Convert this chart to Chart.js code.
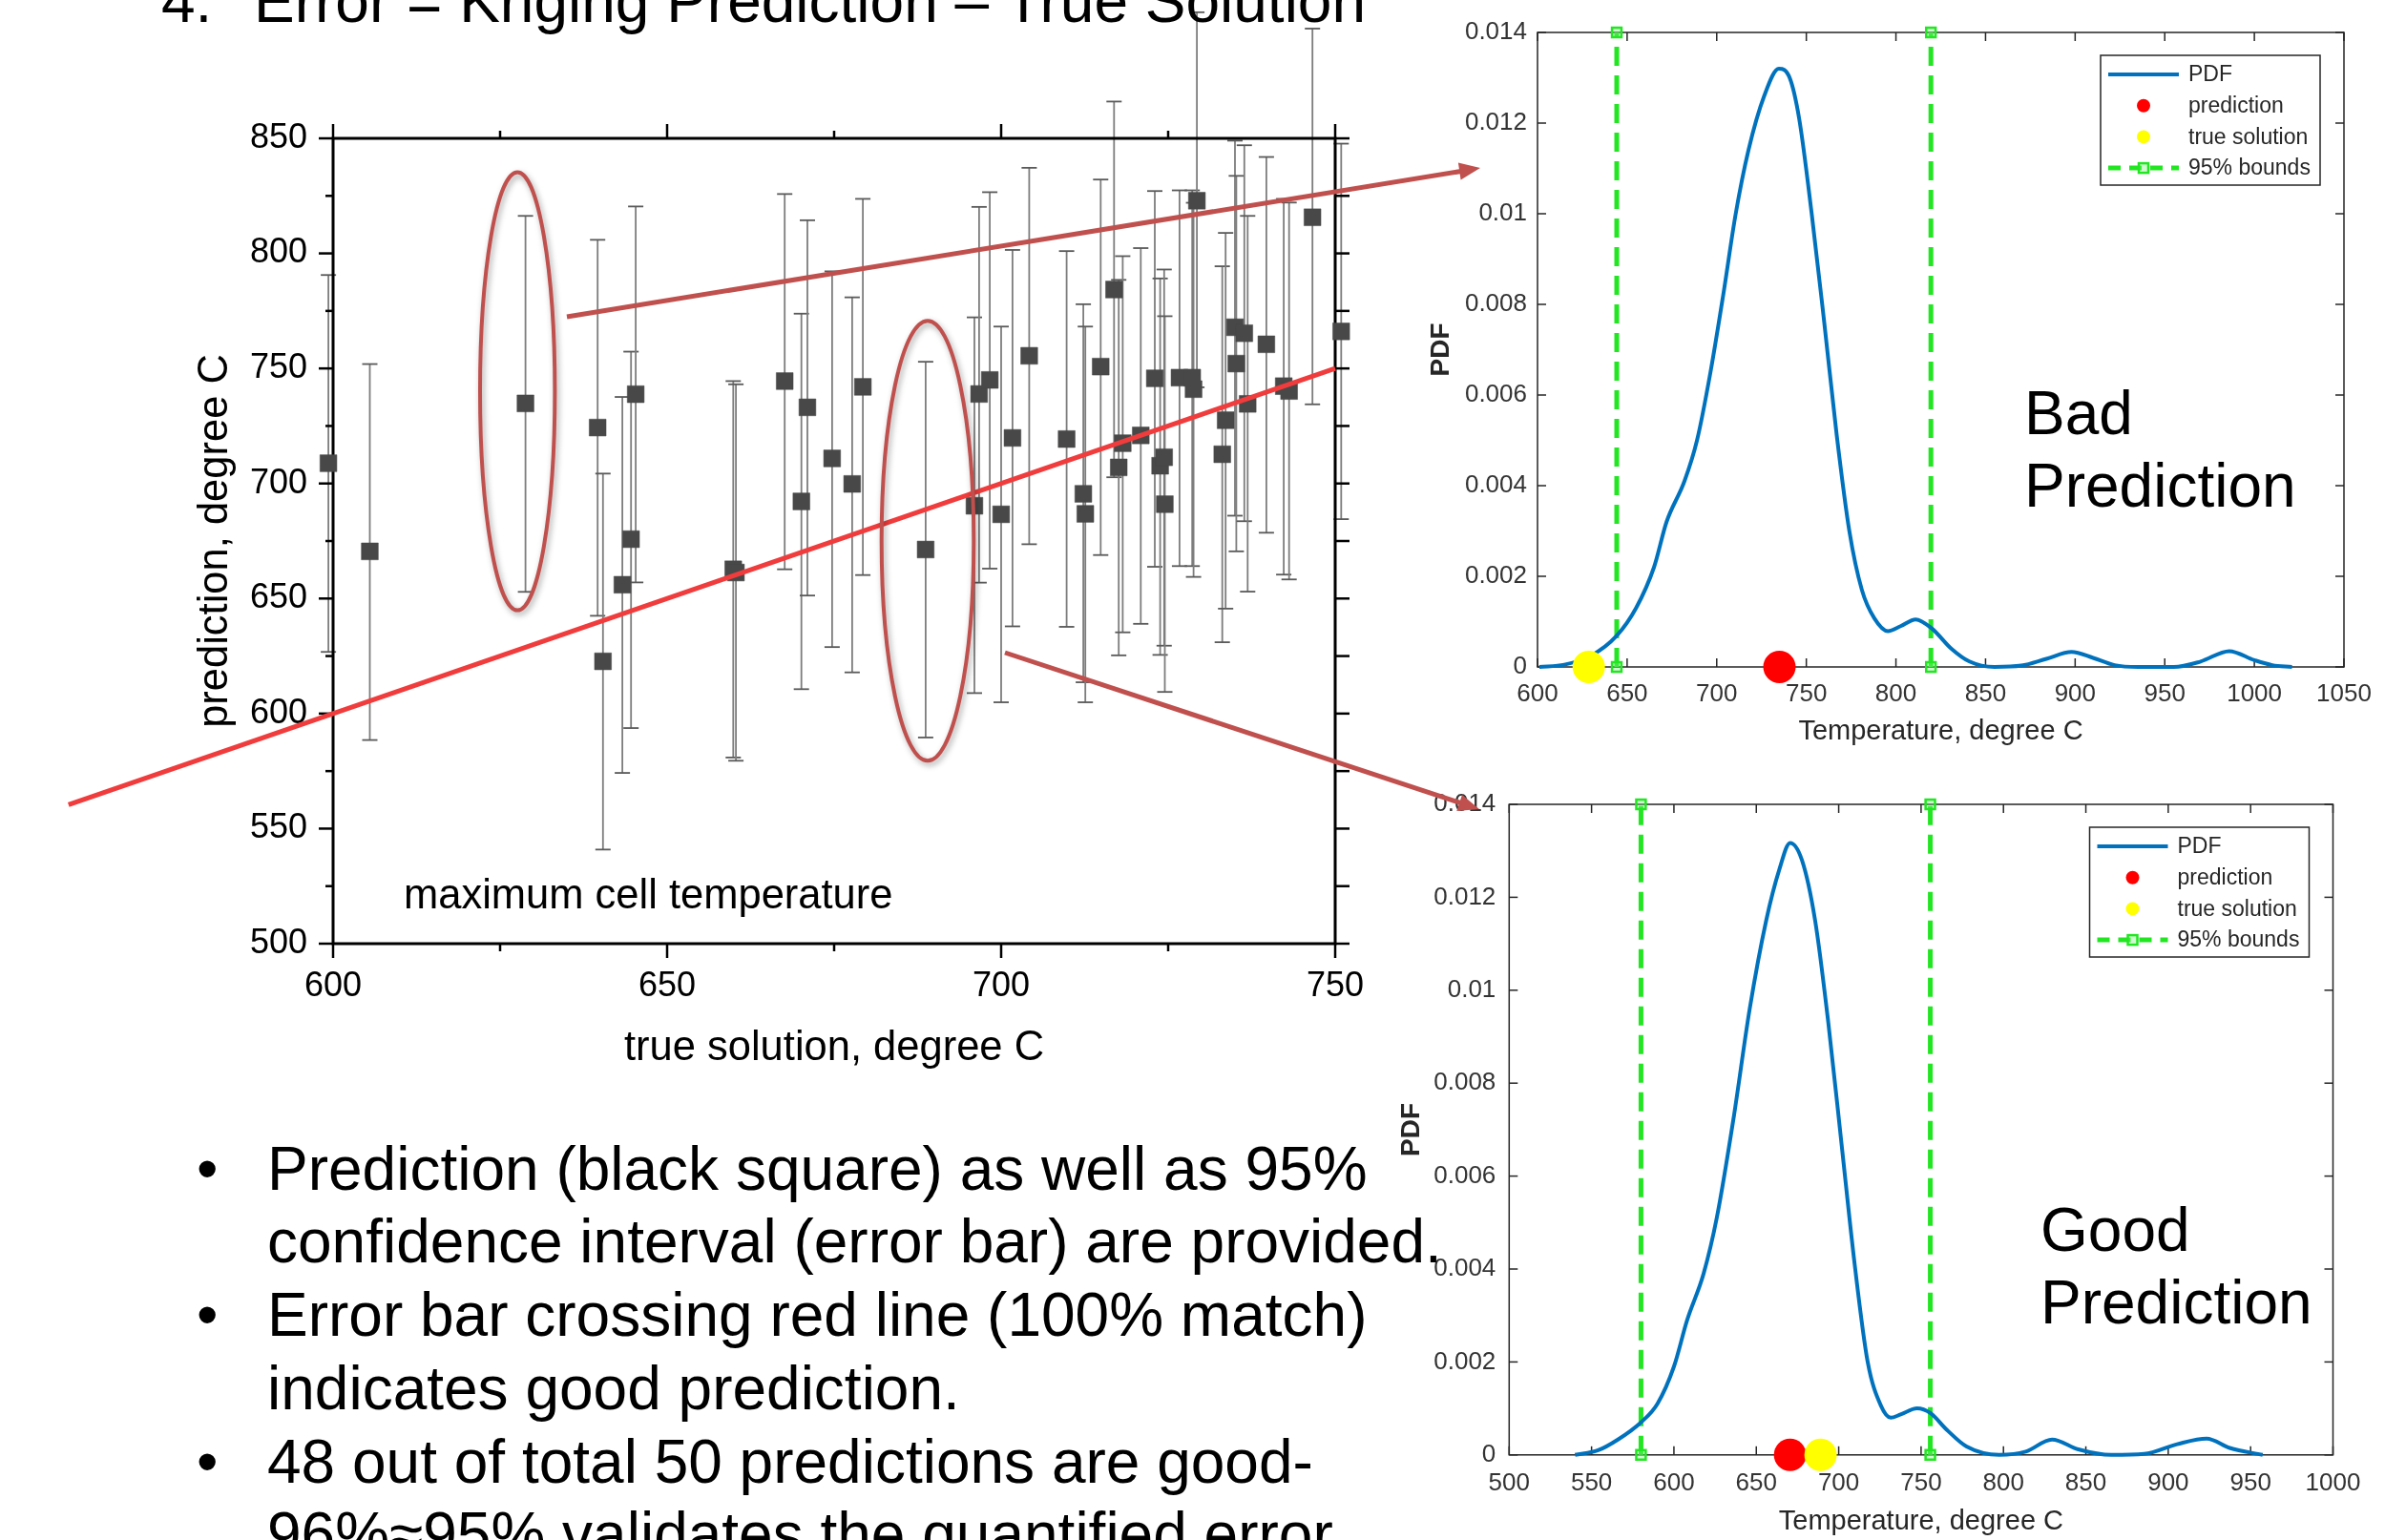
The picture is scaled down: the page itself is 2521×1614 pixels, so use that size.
<!DOCTYPE html>
<html><head><meta charset="utf-8">
<script src="https://cdn.jsdelivr.net/npm/chart.js@4.4.0/dist/chart.umd.min.js"></script>
<style>
html,body{margin:0;padding:0;background:#fff;overflow:hidden;}
body{width:2521px;height:1614px;position:relative;font-family:"Liberation Sans",Arial,sans-serif;}
canvas{position:absolute;}
#main{left:0;top:0;}
#bad{left:1480px;top:0;}
#good{left:1440px;top:800px;}
#ov{position:absolute;left:0;top:0;z-index:5;pointer-events:none;}
#ov text{font-family:"Liberation Sans",Arial,sans-serif;fill:#000;}
</style></head><body>
<canvas id="main" width="1480" height="1160"></canvas>
<canvas id="bad" width="1041" height="800"></canvas>
<canvas id="good" width="1081" height="814"></canvas>
<svg id="ov" width="2521" height="1614" xmlns="http://www.w3.org/2000/svg">
  <text x="169" y="23" font-size="64">4.</text>
  <text x="266" y="23" font-size="64">Error = Kriging Prediction – True Solution</text>
  <text x="423" y="952" font-size="43.5">maximum cell temperature</text>
  <g font-size="64">
    <text x="206" y="1247">•</text>
    <text x="280" y="1247">Prediction (black square) as well as 95%</text>
    <text x="280" y="1323">confidence interval (error bar) are provided.</text>
    <text x="206" y="1400">•</text>
    <text x="280" y="1400">Error bar crossing red line (100% match)</text>
    <text x="280" y="1477">indicates good prediction.</text>
    <text x="206" y="1554">•</text>
    <text x="280" y="1554">48 out of total 50 predictions are good-</text>
    <text x="280" y="1630">96%≈95% validates the quantified error</text>
    <text x="2121" y="455">Bad</text>
    <text x="2121" y="531">Prediction</text>
    <text x="2138" y="1311">Good</text>
    <text x="2138" y="1387">Prediction</text>
  </g>
  <g stroke="#c0504d" stroke-width="5" fill="#c0504d">
    <line x1="594" y1="332" x2="1531" y2="179.5"/>
    <polygon points="1551,176 1530.6,188.6 1527.9,170.4" stroke="none"/>
    <line x1="1053" y1="684" x2="1531" y2="841.7"/>
    <polygon points="1550,848 1526.3,850.0 1532.0,832.9" stroke="none"/>
  </g>
</svg>
<script>
// ---------------- main chart data ----------------
const trueSolution = [599.3,605.5,628.8,639.6,640.4,643.3,644.6,645.3,659.9,660.3,667.6,670.1,671.0,674.7,677.7,679.3,688.7,696.0,696.7,698.3,700.0,701.7,704.2,709.8,712.3,712.6,714.9,716.9,717.6,718.2,720.9,723.0,723.8,724.4,724.5,726.7,728.6,728.8,729.3,733.1,733.6,735.0,735.2,736.4,736.9,739.7,742.3,743.1,746.6,750.9];
const prediction   = [708.8,670.5,734.8,724.3,622.7,656.0,675.8,738.8,662.7,661.3,744.5,692.2,733.1,710.9,699.8,742.0,671.3,690.3,738.9,745.0,686.6,719.8,755.5,719.3,695.5,686.8,750.8,784.3,707.0,717.5,720.9,745.7,707.7,711.4,691.0,746.0,746.0,741.0,822.9,712.7,727.5,767.9,752.1,765.3,734.6,760.5,742.3,740.2,815.7,766.1];
const ciLower      = [626.8,588.5,652.9,642.5,540.9,574.2,593.7,657.0,580.9,579.5,662.7,610.6,651.3,628.9,617.9,660.2,589.6,608.9,656.9,663.0,604.9,637.9,673.6,637.7,613.6,604.9,668.9,702.7,625.3,635.3,639.0,663.8,625.5,629.5,609.4,664.1,664.1,659.4,741.8,631.0,645.6,686.0,670.5,683.6,653.0,678.6,660.4,658.3,734.4,684.5];
const ciUpper      = [790.6,751.9,816.3,805.9,704.3,737.6,757.3,820.4,744.5,743.1,825.8,773.8,814.4,792.2,780.9,823.7,752.9,772.2,820.2,826.6,768.2,801.5,837.2,801.0,777.9,768.2,832.1,866.0,788.5,798.8,802.3,827.1,789.1,793.0,772.7,827.4,827.4,822.0,904.8,794.4,808.9,849.0,833.7,847.0,816.3,841.9,823.7,822.1,897.7,847.7];
const perfectMatch = [560.4, 750];              // 100% match line: prediction = true solution
const highlighted = [                            // ellipses around the two discussed cases
  {x:627.6, y:740.1, rx:5.6, ry:95.2},
  {x:689.0, y:675.1, rx:6.9, ry:95.6}
];

// ---------------- PDF chart data ----------------
const badTemp = [601,615,630,644,655,665,672,682,689,696.5,703.6,710.6,717.7,726.5,734.7,740.7,746,753,760,767,774,781,788,795.5,802.6,811,820,831,841,855,870,884,898,910,922,935,955,970,986,1000,1010,1021];
const badPdf  = [0,0.00005,0.00025,0.00068,0.0013,0.0022,0.0032,0.0041,0.005,0.0065,0.0082,0.0100,0.0114,0.0126,0.0132,0.0130,0.0121,0.0100,0.0076,0.0051,0.0030,0.0017,0.00107,0.00079,0.0009,0.00105,0.00085,0.0004,0.00012,0,0.00003,0.00018,0.00033,0.0002,0.00004,0,0,0.00012,0.00035,0.00015,0.00004,0];
const badPrediction = 735;
const badTrue = 628.6;
const badBounds = [644.2, 819.5];

const goodTemp = [540,554,566,580,590,600,608,618,626,636,646,656,664,670.5,677.7,685.7,693.7,701.7,709.7,717.6,725.6,731.6,737.6,747.6,755.6,765.6,777.6,797.5,813.5,829.5,845.4,865.4,885.4,905.4,923.3,937.3,957.3];
const goodPdf  = [0,0.0001,0.00033,0.0007,0.0011,0.0019,0.0029,0.0039,0.0051,0.0072,0.0096,0.0115,0.0126,0.01317,0.0128,0.0115,0.0093,0.0067,0.0041,0.002,0.00106,0.0008,0.00087,0.001,0.0009,0.00054,0.00018,0,0.00007,0.00033,0.00012,0,0.00002,0.00023,0.00035,0.00015,0];
const goodPrediction = 670.5;
const goodTrue = 689;
const goodBounds = [580, 755.6];

const pdfMax = 0.014;

// ---------------- plugins ----------------
function seg(ctx,x1,y1,x2,y2){ctx.beginPath();ctx.moveTo(x1,y1);ctx.lineTo(x2,y2);ctx.stroke();}

const originAxes = {
  id:'originAxes',
  beforeDatasetsDraw(chart){
    const {ctx, chartArea:ca, scales:{x,y}} = chart;
    ctx.save();
    const ds = chart.data.datasets.find(d=>d.errLow);
    ctx.lineWidth = 1.8;
    ds.data.forEach((p,i)=>{
      const px = x.getPixelForValue(p.x);
      const lo = y.getPixelForValue(ds.errLow[i]);
      const hi = y.getPixelForValue(ds.errHigh[i]);
      ctx.strokeStyle = '#7d7d7d';
      seg(ctx,px,lo,px,hi);
      ctx.strokeStyle = '#5a5a5a';
      seg(ctx,px-8,lo,px+8,lo);
      seg(ctx,px-8,hi,px+8,hi);
    });
    ctx.strokeStyle = '#000';
    ctx.lineWidth = 3;
    ctx.strokeRect(ca.left, ca.top, ca.right-ca.left, ca.bottom-ca.top);
    ctx.lineWidth = 2.5;
    for (let v = x.min; v <= x.max + 1e-6; v += 25){
      const px = x.getPixelForValue(v);
      const major = Math.abs(v % 50) < 1e-6;
      const L = major ? 15 : 8;
      seg(ctx,px,ca.bottom,px,ca.bottom+L);
      seg(ctx,px,ca.top,px,ca.top-L);
    }
    for (let v = y.min; v <= y.max + 1e-6; v += 25){
      const py = y.getPixelForValue(v);
      const major = Math.abs(v % 50) < 1e-6;
      seg(ctx,ca.left-(major?15:8),py,ca.left,py);
      seg(ctx,ca.right,py,ca.right+15,py);
    }
    ctx.restore();
  },
  afterDatasetsDraw(chart){
    const {ctx, scales:{x,y}} = chart;
    ctx.save();
    ctx.strokeStyle = '#c0504d';
    ctx.lineWidth = 4;
    ctx.shadowColor = 'rgba(0,0,0,0.35)';
    ctx.shadowBlur = 6;
    ctx.shadowOffsetX = 2;
    ctx.shadowOffsetY = 3;
    highlighted.forEach(e=>{
      const cx = x.getPixelForValue(e.x), cy = y.getPixelForValue(e.y);
      const rx = Math.abs(x.getPixelForValue(e.x+e.rx)-cx);
      const ry = Math.abs(y.getPixelForValue(e.y+e.ry)-cy);
      ctx.beginPath(); ctx.ellipse(cx,cy,rx,ry,0,0,Math.PI*2); ctx.stroke();
    });
    ctx.restore();
  }
};

const matlabBox = {
  id:'matlabBox',
  beforeDatasetsDraw(chart){
    const {ctx, chartArea:ca, scales:{x,y}} = chart;
    ctx.save();
    ctx.strokeStyle = '#262626';
    ctx.lineWidth = 1.5;
    ctx.strokeRect(ca.left, ca.top, ca.right-ca.left, ca.bottom-ca.top);
    x.ticks.forEach(t=>{
      const px = x.getPixelForValue(t.value);
      seg(ctx,px,ca.bottom,px,ca.bottom-9);
      seg(ctx,px,ca.top,px,ca.top+9);
    });
    y.ticks.forEach(t=>{
      const py = y.getPixelForValue(t.value);
      seg(ctx,ca.left,py,ca.left+9,py);
      seg(ctx,ca.right,py,ca.right-9,py);
    });
    ctx.restore();
  },
  afterDraw(chart){
    const {ctx, chartArea:ca} = chart;
    const w = 230, h = 136;
    const x0 = ca.right - 25 - w, y0 = ca.top + 24;
    ctx.save();
    ctx.fillStyle = '#fff';
    ctx.fillRect(x0,y0,w,h);
    ctx.strokeStyle = '#262626';
    ctx.lineWidth = 1.5;
    ctx.strokeRect(x0,y0,w,h);
    const items = chart.data.datasets.filter(d=>d.inLegend);
    items.sort((a,b)=>a.legendRank-b.legendRank);
    ctx.font = '23px "Liberation Sans", Arial, sans-serif';
    ctx.textBaseline = 'middle';
    items.forEach((d,i)=>{
      const cy = y0 + 20 + i*32.7;
      if (d.legendKind === 'line'){
        ctx.strokeStyle = d.borderColor; ctx.lineWidth = d.borderWidth; ctx.setLineDash([]);
        seg(ctx,x0+8,cy,x0+82,cy);
      } else if (d.legendKind === 'dot'){
        ctx.fillStyle = d.backgroundColor;
        ctx.beginPath(); ctx.arc(x0+45,cy,7,0,Math.PI*2); ctx.fill();
      } else {
        ctx.strokeStyle = d.borderColor; ctx.lineWidth = d.borderWidth; ctx.setLineDash([13,9]);
        seg(ctx,x0+8,cy,x0+82,cy);
        ctx.setLineDash([]);
        ctx.fillStyle = d.pointBackgroundColor;
        ctx.fillRect(x0+40,cy-5,10,10);
        ctx.lineWidth = 2.5; ctx.strokeStyle = d.pointBorderColor;
        ctx.strokeRect(x0+40,cy-5,10,10);
      }
      ctx.fillStyle = '#262626';
      ctx.fillText(d.label, x0+92, cy+1);
    });
    ctx.restore();
  }
};

// ---------------- main chart ----------------
new Chart(document.getElementById('main'), {
  type:'scatter',
  data:{
    datasets:[
      {
        label:'100% match',
        data: perfectMatch.map(v=>({x:v,y:v})),
        showLine:true, borderColor:'#f03c3c', borderWidth:5, pointRadius:0,
        clip:false, order:0
      },
      {
        label:'prediction',
        data: trueSolution.map((t,i)=>({x:t,y:prediction[i]})),
        errLow: ciLower, errHigh: ciUpper,
        pointStyle:'rect', pointRadius:12.5, backgroundColor:'#484848',
        borderColor:'#484848', borderWidth:0.5, clip:false, order:1
      }
    ]
  },
  options:{
    responsive:false, animation:false, devicePixelRatio:1,
    layout:{padding:{left:0, top:145, right:81, bottom:0}},
    plugins:{legend:{display:false}, tooltip:{enabled:false}},
    scales:{
      x:{
        type:'linear', min:600, max:750,
        ticks:{stepSize:50, color:'#000', font:{size:36, family:'"Liberation Sans", Arial, sans-serif'}, padding:23, maxRotation:0, callback:v=>String(v)},
        grid:{display:false, drawTicks:false}, border:{display:false},
        title:{display:true, text:'true solution, degree C', color:'#000', font:{size:43.5, family:'"Liberation Sans", Arial, sans-serif'}, padding:{top:0,bottom:35}},
        afterFit(s){ s.height = 171; }
      },
      y:{
        type:'linear', min:500, max:850,
        ticks:{stepSize:50, color:'#000', font:{size:36, family:'"Liberation Sans", Arial, sans-serif'}, padding:27, callback:v=>String(v)},
        grid:{display:false, drawTicks:false}, border:{display:false},
        title:{display:true, text:'prediction, degree C', color:'#000', font:{size:43.5, family:'"Liberation Sans", Arial, sans-serif'}, padding:{top:200,bottom:0}},
        afterFit(s){ s.width = 349; }
      }
    }
  },
  plugins:[originAxes]
});

// ---------------- PDF charts ----------------
function pdfChart(id, temps, pdfs, pred, truth, bounds, xMin, xMax, g){
  const green = '#22e622';
  const bound = (b, first) => ({
    label:'95% bounds', inLegend:first, legendRank:3, legendKind:'bounds',
    data:[{x:b,y:0},{x:b,y:pdfMax}], showLine:true,
    borderColor:green, borderWidth:5, borderDash:[20,10],
    pointStyle:'rect', pointRadius:7, pointBorderColor:green, pointBorderWidth:2.5,
    pointBackgroundColor:'rgba(120,240,120,0.35)', clip:false, order:3
  });
  new Chart(document.getElementById(id), {
    type:'scatter',
    data:{datasets:[
      {label:'PDF', inLegend:true, legendRank:0, legendKind:'line',
       data: temps.map((t,i)=>({x:t,y:pdfs[i]})), showLine:true,
       borderColor:'#0072BD', borderWidth:4, pointRadius:0,
       cubicInterpolationMode:'monotone', clip:false, order:2},
      {label:'prediction', inLegend:true, legendRank:1, legendKind:'dot',
       data:[{x:pred,y:0}], pointRadius:17, backgroundColor:'#ff0000', borderColor:'#ff0000', borderWidth:0, clip:false, order:1},
      {label:'true solution', inLegend:true, legendRank:2, legendKind:'dot',
       data:[{x:truth,y:0}], pointRadius:17, backgroundColor:'#ffff00', borderColor:'#ffff00', borderWidth:0, clip:false, order:0},
      bound(bounds[0], true),
      bound(bounds[1], false)
    ]},
    options:{
      responsive:false, animation:false, devicePixelRatio:1,
      layout:{padding:{left:0, top:g.padTop, right:g.padRight, bottom:0}},
      plugins:{legend:{display:false}, tooltip:{enabled:false}},
      scales:{
        x:{
          type:'linear', min:xMin, max:xMax,
          ticks:{stepSize:50, color:'#333', font:{size:26, family:'"Liberation Sans", Arial, sans-serif'}, padding:g.xTickPad, maxRotation:0, autoSkip:false,
                 callback:v=>String(v)},
          grid:{display:false, drawTicks:false}, border:{display:false},
          title:{display:true, text:'Temperature, degree C', color:'#262626', font:{size:29, family:'"Liberation Sans", Arial, sans-serif'}, padding:{top:0,bottom:g.xTitlePad}},
          afterFit(s){ s.height = g.xHeight; }
        },
        y:{
          type:'linear', min:0, max:pdfMax,
          ticks:{stepSize:0.002, color:'#333', font:{size:26, family:'"Liberation Sans", Arial, sans-serif'}, padding:g.yTickPad,
                 callback:v=>String(Math.round(v*1000)/1000)},
          grid:{display:false, drawTicks:false}, border:{display:false},
          title:{display:true, text:'PDF', color:'#262626', font:{size:28, weight:'bold', family:'"Liberation Sans", Arial, sans-serif'}, padding:{top:g.yTitlePad,bottom:0}},
          afterFit(s){ s.width = g.yWidth; }
        }
      }
    },
    plugins:[matlabBox]
  });
}

pdfChart('bad', badTemp, badPdf, badPrediction, badTrue, badBounds, 600, 1050,
  {padTop:34, padRight:65, yWidth:131, xHeight:101, xTickPad:13, yTickPad:11, xTitlePad:16, yTitlePad:13});
pdfChart('good', goodTemp, goodPdf, goodPrediction, goodTrue, goodBounds, 500, 1000,
  {padTop:43, padRight:76.5, yWidth:141.3, xHeight:89.2, xTickPad:14.6, yTickPad:14, xTitlePad:2, yTitlePad:22});
</script>
</body></html>
